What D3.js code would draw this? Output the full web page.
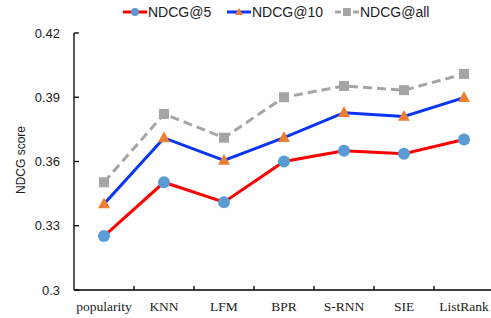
<!DOCTYPE html>
<html>
<head>
<meta charset="utf-8">
<script src="https://cdn.jsdelivr.net/npm/d3@7"></script>
<style>
  body { margin: 0; background: #fff; }
  svg { display: block; }
</style>
</head>
<body>
<svg id="chart"></svg>
<script>
const width = 491;
const height = 318;

const methods = ['popularity', 'KNN', 'LFM', 'BPR', 'S-RNN', 'SIE', 'ListRank'];
const ndcg5 = [0.3252, 0.3503, 0.3410, 0.3600, 0.3650, 0.3636, 0.3703];
const ndcg10 = [0.3402, 0.3710, 0.3605, 0.3711, 0.3828, 0.3810, 0.3898];
const ndcgAll = [0.3503, 0.3822, 0.3711, 0.3900, 0.3953, 0.3933, 0.4009];
const yTicks = [0.3, 0.33, 0.36, 0.39, 0.42];

const series = [
    {name: 'NDCG@5', values: ndcg5, line: '#ff0000', marker: '#5b9bd5', shape: 'circle', dash: null},
    {name: 'NDCG@10', values: ndcg10, line: '#0a35f5', marker: '#ed7d31', shape: 'triangle', dash: null},
    {name: 'NDCG@all', values: ndcgAll, line: '#a5a5a5', marker: '#a5a5a5', shape: 'square', dash: '9,5'}
];

const svg = d3.select('#chart')
    .attr('width', width)
    .attr('height', height);

const x = d3.scaleBand().domain(methods).range([74, 494]);
const y = d3.scaleLinear().domain([0.3, 0.42]).range([290, 33]);

// x axis
const xAxis = svg.append('g').attr('transform', 'translate(0,290)');
xAxis.append('line')
    .attr('x1', 74).attr('x2', 494)
    .attr('stroke', '#000').attr('stroke-width', 1.3);
xAxis.selectAll('.xt').data(methods.slice(1)).enter().append('line')
    .attr('x1', d => x(d)).attr('x2', d => x(d))
    .attr('y1', 0).attr('y2', -4)
    .attr('stroke', '#000').attr('stroke-width', 1.3);
xAxis.selectAll('text').data(methods).enter().append('text')
    .attr('x', d => x(d) + x.bandwidth() / 2)
    .attr('y', 21)
    .attr('text-anchor', 'middle')
    .attr('font-family', 'Liberation Serif, Times New Roman, serif')
    .attr('font-size', 13.5)
    .attr('fill', '#222')
    .text(d => d);

// y axis
const yAxis = svg.append('g').attr('transform', 'translate(74,0)');
yAxis.append('line')
    .attr('y1', y(0.42)).attr('y2', 290)
    .attr('stroke', '#000').attr('stroke-width', 1.3);
yAxis.selectAll('.yt').data(yTicks).enter().append('line')
    .attr('x1', 0).attr('x2', 5)
    .attr('y1', d => y(d)).attr('y2', d => y(d))
    .attr('stroke', '#000').attr('stroke-width', 1.3);
yAxis.selectAll('text').data(yTicks).enter().append('text')
    .attr('x', -14)
    .attr('y', d => y(d))
    .attr('dy', '0.35em')
    .attr('text-anchor', 'end')
    .attr('font-family', 'Liberation Sans, Arial, sans-serif')
    .attr('font-size', 13)
    .attr('fill', '#222')
    .text(d => d);

svg.append('text')
    .attr('transform', 'translate(25,160) rotate(-90)')
    .attr('text-anchor', 'middle')
    .attr('font-family', 'Liberation Sans, Arial, sans-serif')
    .attr('font-size', 12)
    .attr('fill', '#222')
    .text('NDCG score');

function drawMarker(g, shape, cx, cy, s, fill) {
    if (shape === 'circle') {
        g.append('circle').attr('cx', cx).attr('cy', cy).attr('r', s / 2).attr('fill', fill);
    } else if (shape === 'square') {
        g.append('rect').attr('x', cx - s / 2).attr('y', cy - s / 2)
            .attr('width', s).attr('height', s).attr('fill', fill);
    } else {
        const h = s * 0.9;
        g.append('path')
            .attr('d', `M${cx},${cy - h * 0.6}L${cx + s / 2},${cy + h * 0.4}L${cx - s / 2},${cy + h * 0.4}Z`)
            .attr('fill', fill);
    }
}

const line = d3.line()
    .x((d, i) => x(methods[i]) + x.bandwidth() / 2)
    .y(d => y(d));

// draw from back to front
[2, 1, 0].forEach(k => {
    const s = series[k];
    const g = svg.append('g');
    g.append('path')
        .attr('d', line(s.values))
        .attr('fill', 'none')
        .attr('stroke', s.line)
        .attr('stroke-width', 3)
        .attr('stroke-dasharray', s.dash);
    s.values.forEach((v, i) => {
        const size = s.shape === 'circle' ? 12 : (s.shape === 'square' ? 10 : 12);
        drawMarker(g, s.shape, x(methods[i]) + x.bandwidth() / 2, y(v), size, s.marker);
    });
});

// legend
const legendX = [123, 227, 335];
series.forEach((s, k) => {
    const g = svg.append('g').attr('transform', `translate(${legendX[k]},12)`);
    g.append('line')
        .attr('x1', 0).attr('x2', 24)
        .attr('stroke', s.line).attr('stroke-width', 3)
        .attr('stroke-dasharray', s.dash ? '6,3' : null);
    drawMarker(g, s.shape, 12, 0, 8, s.marker);
    g.append('text')
        .attr('x', 25)
        .attr('dy', '0.35em')
        .attr('font-family', 'Liberation Sans, Arial, sans-serif')
        .attr('font-size', 14)
        .attr('fill', '#222')
        .text(s.name);
});
</script>
</body>
</html>
